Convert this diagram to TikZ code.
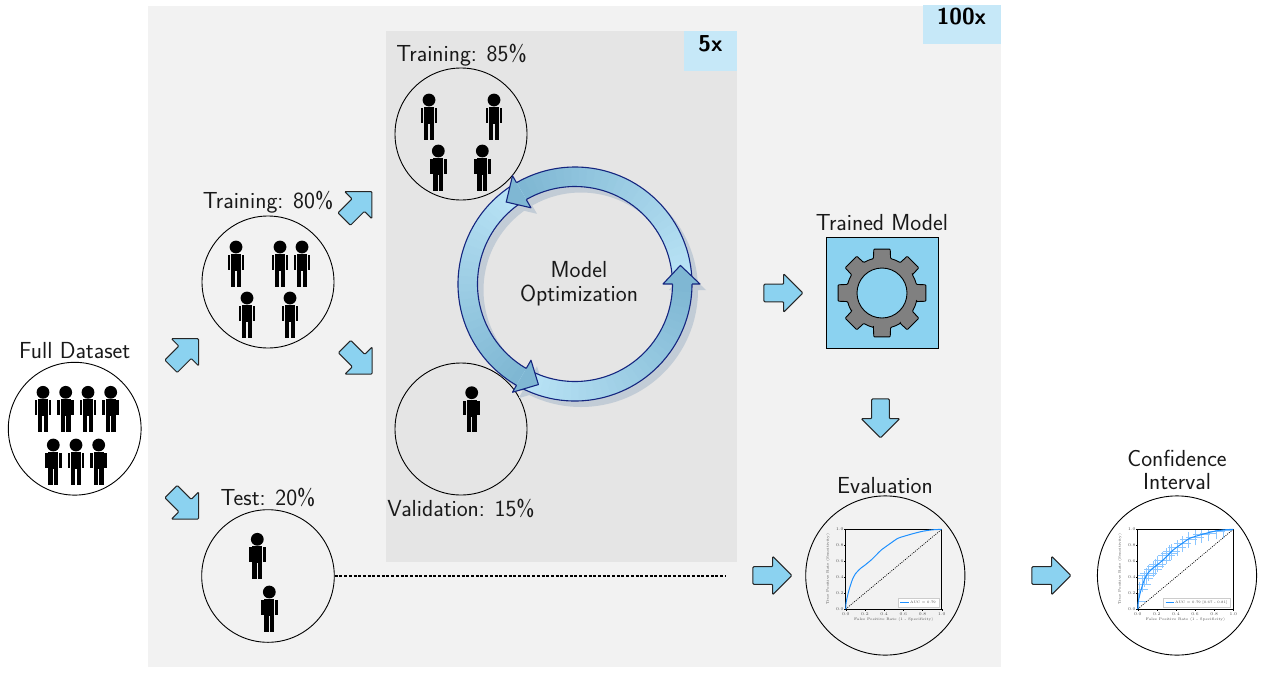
\documentclass[tikz,border=0pt]{standalone}
\usepackage{fontspec}
\usetikzlibrary{shapes.arrows}
\definecolor{panelA}{HTML}{F2F2F2}
\definecolor{panelB}{HTML}{E5E5E5}
\definecolor{badge}{HTML}{C6E8F8}
\definecolor{sky}{HTML}{8BD2F0}
\definecolor{ringlight}{HTML}{BAE4F6}
\definecolor{ringdark}{HTML}{7FB7D3}
\definecolor{ringline}{HTML}{14257F}
\definecolor{ringshadow}{HTML}{C2CCD6}
\definecolor{roc}{HTML}{1E90FF}
\definecolor{roclight}{HTML}{8CC6FF}
\newcommand{\lbl}{\sffamily\fontsize{23.2}{25}\selectfont}
\newcommand{\boldlbl}{\sffamily\bfseries\fontsize{23}{25}\selectfont}
\newcommand{\ticklbl}{\fontsize{4.2}{4.5}\selectfont}
\newcommand{\axlbl}{\fontsize{3.7}{4.2}\selectfont}
\newcommand{\leglbl}{\fontsize{3.5}{4}\selectfont}
\newcommand{\curvepts}{(0,0) (0.004,0.08) (0.017,0.155) (0.03,0.22) (0.045,0.28) (0.07,0.37) (0.1,0.44) (0.13,0.48) (0.16,0.515) (0.2,0.55) (0.27,0.62) (0.32,0.68) (0.37,0.74) (0.45,0.81) (0.54,0.885) (0.6,0.91) (0.7,0.945) (0.8,0.975) (0.9,0.993) (1,1)}
\tikzset{
  textlabel/.style={font=\lbl,anchor=base,inner sep=0pt,text=black!90},
  setcircle/.style={circle,draw=black,line width=0.9pt,inner sep=0pt,minimum size=#1},
  blockarrow/.style={single arrow,draw=black!85,fill=sky,line width=1pt,rounded corners=1pt,
    minimum height=39pt,minimum width=37.4pt,single arrow head extend=10.4pt,inner sep=0pt,
    single arrow tip angle=90,shape border rotate=0,text width=0pt,text height=8.3pt,text depth=8.3pt},
  person/.pic={
    \fill[black] (0,0) circle[radius=6.4pt];
    \fill[black] (-4.9,7) rectangle (4.9,24);
    \fill[black] (-4.9,24) rectangle (-0.6,39.5);
    \fill[black] (0.6,24) rectangle (4.9,39.5);
    \fill[black] (-8.4,8) rectangle (-5.7,22.5);
    \fill[black] (5.7,8) rectangle (8.4,22.5);
  },
  ticklabel/.style={anchor=center,inner sep=0pt,font=\ticklbl,text=black!70},
  axlabel/.style={anchor=center,inner sep=0pt,font=\axlbl,text=black!70},
  leglabel/.style={anchor=west,inner sep=0pt,font=\leglbl,text=black!75},
}
% #1 prefix, #2 origin x, #3 width, #4 y-label x
\newcommand{\rocframe}[4]{%
  \begin{scope}[shift={(#2,609)},x=#3pt,y=79.7pt]
    \draw[black,line width=0.8pt] (0,0) rectangle (1,1);
    \draw[black,line width=0.7pt,dash pattern=on 1pt off 1.2pt] (0,0) -- (1,1);
    \foreach \t/\n in {0.0/a,0.2/b,0.4/c,0.6/d,0.8/e,1.0/f}{
      \draw[black,line width=0.3pt] (\t,0) -- ++(0,-1.5pt);
      \draw[black,line width=0.3pt] (0,\t) -- ++(-1.5pt,0);
      \node[ticklabel] (#1x\n) at ([yshift=-5pt]\t,0) {\t};
      \node[ticklabel] (#1y\n) at ([xshift=-6pt]0,\t) {\t};
    }
  \end{scope}
  \node[axlabel] (#1xl) at ({#2+#3/2},620) {False Positive Rate (1 - Specificity)};
  \node[axlabel,rotate=90] (#1yl) at (#4,569) {True Positive Rate (Sensitivity)};
}
\begin{document}
\begin{tikzpicture}[x=1pt,y=-1pt]
\useasboundingbox (0,0) rectangle (1263,675);
\fill[white] (0,0) rectangle (1263,675);
% panels
\fill[panelA] (148,6) rectangle (1001,667);
\fill[panelB] (385.5,31) rectangle (737,562);
\fill[badge] (923,5) rectangle (1001,44);
\fill[badge] (684,31) rectangle (737,70.5);
\node[font=\boldlbl,inner sep=0pt] (outerbadge) at (961.5,17) {100x};
\node[font=\boldlbl,inner sep=0pt] (innerbadge) at (710.5,44) {5x};

% circles
\node[setcircle=132.8pt] (full) at (74.7,428.7) {};
\node[setcircle=132pt] (train) at (268,282) {};
\node[setcircle=132pt] (trainB) at (461,134) {};
\node[setcircle=132pt] (valid) at (461,429) {};
\node[setcircle=132.6pt] (test) at (268,576) {};
\node[setcircle=159.2pt] (evalc) at (885.3,575.5) {};
\node[setcircle=159.2pt] (confc) at (1177,575.5) {};

% labels
\node[textlabel] (lfull) at (74.7,358.5) {Full Dataset};
\node[textlabel] (ltrain) at (268,208) {Training: 80\%};
\node[textlabel] (ltrainB) at (461.5,61) {Training: 85\%};
\node[textlabel] (lvalid) at (461,516) {Validation: 15\%};
\node[textlabel] (ltest) at (268,505) {Test: 20\%};
\node[textlabel] (lmodel) at (882,230) {Trained Model};
\node[textlabel] (leval) at (885,493) {Evaluation};
\node[textlabel] (lconfA) at (1177,466) {Confidence};
\node[textlabel] (lconfB) at (1177,489) {Interval};
\node[textlabel] (lopA) at (579,277.5) {Model};
\node[textlabel] (lopB) at (579,301) {Optimization};

% people
\foreach \px/\py in {43/392.3,65.7/392.3,88/392.3,110.7/392.3,53.3/445,76/445,98.7/445,
  236/247,280/247,302/247,247/298,290/298,
  429/100,494/100,438.3/151,482.3/151,
  471.7/392.7,
  257.3/539.3,269.3/592}
  \pic at (\px,\py) {person};

% block arrows
\node[blockarrow,rotate=45] (a1) at (181.7,355.6) {};
\node[blockarrow,rotate=-45] (a2) at (181.7,502.2) {};
\node[blockarrow,rotate=45] (a3) at (354.9,208.4) {};
\node[blockarrow,rotate=-45] (a4) at (355.2,357.2) {};
\node[blockarrow] (a5) at (779,293) {};
\node[blockarrow,rotate=-90] (a6) at (880.5,414) {};
\node[blockarrow] (a7) at (768,575.5) {};
\node[blockarrow] (a8) at (1047,575.5) {};

% test to evaluation connector
\coordinate (dashend) at (726,576);
\draw[black,line width=1.1pt,dash pattern=on 3pt off 1.7pt] (test.east) -- (dashend);

% trained model
\node[draw=black,fill=sky,line width=1pt,minimum width=112pt,minimum height=111pt,inner sep=0pt] (modelbox) at (882.3,292.8) {};
\begin{scope}[shift={(882,293)},x=1pt,y=1pt]
  \draw[black,fill=black!50,line width=0.9pt,rounded corners=0.8pt] (-14:35.5)
    foreach \a in {0,45,...,315} {
      -- ({\a-14}:35.5) -- ({\a-10.6}:44.6) -- ({\a+10.6}:44.6) -- ({\a+14}:35.5)
      -- ({\a+22.5}:35.5) -- ({\a+45-14}:35.5)
    } -- cycle;
  \draw[black,fill=sky,line width=0.9pt] (0,0) circle[radius=25pt];
\end{scope}

% optimisation ring
\begin{scope}[shift={(575,284)},x=1pt,y=1pt]
  \begin{scope}[shift={(6,-6)}]
    \fill[ringshadow,even odd rule] (0,0) circle[radius=117pt] (0,0) circle[radius=97.5pt];
    \foreach \b in {0,120,240}
      \fill[ringshadow] (\b:88) -- ({\b+10}:107) -- (\b:125) -- cycle;
  \end{scope}
  \foreach \b in {0,120,240}{
    \foreach \i in {0,...,29}{
      \pgfmathsetmacro{\sa}{\b+4*\i}
      \pgfmathsetmacro{\ea}{\sa+4.3}
      \pgfmathsetmacro{\p}{100-100*\i/29}
      \fill[ringlight!\p!ringdark] (\sa:97.5) arc[start angle=\sa,end angle=\ea,radius=97.5]
        -- (\ea:117) arc[start angle=\ea,end angle=\sa,radius=117] -- cycle;
    }
    \draw[ringline,line width=1.1pt] (\b:97.5) arc[start angle=\b,end angle=\b+120,radius=97.5];
    \draw[ringline,line width=1.1pt] (\b:117) arc[start angle=\b,end angle=\b+120,radius=117];
  }
  \foreach \b in {0,120,240}{
    \fill[ringdark] (\b:88) -- ({\b+10}:107) -- (\b:125) -- cycle;
    \draw[ringline,line width=1.1pt,line join=round] (\b:97.5) -- (\b:88) -- ({\b+10}:107) -- (\b:125) -- (\b:117);
  }
\end{scope}

% ROC plot: evaluation
\rocframe{e}{845.7}{96}{828}
\begin{scope}[shift={(845.7,609)},x=96pt,y=79.7pt]
  \draw[roc,line width=1pt,line join=round] plot[smooth,tension=0.4] coordinates {\curvepts};
\end{scope}
\node[draw=black!20,fill=white,line width=0.4pt,minimum width=40.7pt,minimum height=8.4pt,inner sep=0pt] (elegend) at (918.7,602.5) {};
\coordinate (elineA) at (900.3,602.5);
\coordinate (elineB) at (909,602.5);
\draw[roc,line width=0.9pt] (elineA) -- (elineB);
\node[leglabel] (elegtext) at (910,602.5) {AUC = 0.79};

% ROC plot: confidence interval
\begin{scope}[shift={(1137.7,609)},x=95.6pt,y=79.7pt]
  \foreach \cx/\cy in {0.005/0.1,0.02/0.24,0.045/0.31,0.07/0.38,0.09/0.42,0.11/0.45,0.16/0.5,0.19/0.53,0.21/0.56,0.26/0.61,0.3/0.67,0.33/0.7,0.35/0.72,0.41/0.77,0.47/0.82,0.53/0.87,0.6/0.9,0.67/0.93,0.74/0.95,0.82/0.975,0.9/0.99}{
    \draw[roclight,line width=0.8pt] ({max(\cx-0.09,0)},\cy) -- ({min(\cx+0.09,1)},\cy);
    \draw[roclight,line width=0.8pt] (\cx,{max(\cy-0.1,0)}) -- (\cx,{min(\cy+0.1,1)});
  }
\end{scope}
\rocframe{c}{1137.7}{95.6}{1120}
\begin{scope}[shift={(1137.7,609)},x=95.6pt,y=79.7pt]
  \draw[roc,line width=1pt,line join=round] plot[smooth,tension=0.4] coordinates {\curvepts};
\end{scope}
\node[draw=black!20,fill=white,line width=0.4pt,minimum width=66.7pt,minimum height=8.4pt,inner sep=0pt] (clegend) at (1196.7,602.5) {};
\coordinate (clineA) at (1165.5,602.5);
\coordinate (clineB) at (1173.5,602.5);
\draw[roc,line width=0.9pt] (clineA) -- (clineB);
\node[leglabel] (clegtext) at (1175,602.5) {AUC = 0.79 [0.67 - 0.81]};
\end{tikzpicture}
\end{document}
